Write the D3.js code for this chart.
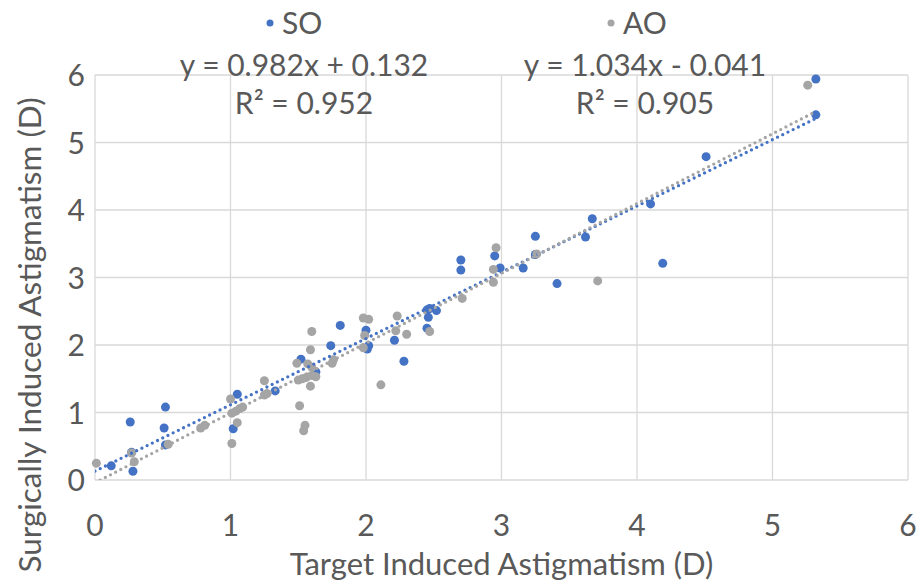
<!DOCTYPE html>
<html>
<head>
<meta charset="utf-8">
<script src="https://cdn.jsdelivr.net/npm/d3@7"></script>
<style>
  body { margin: 0; background: #fff; }
  text { font-family: Lato, sans-serif; fill: #595959; }
</style>
</head>
<body>
<div class="wrapper"></div>
<script>
// SO series: [target, surgically induced]
const soPoints = [
  [0.12, 0.21], [0.26, 0.86], [0.28, 0.13], [0.27, 0.41], [0.52, 1.08],
  [0.51, 0.77], [0.52, 0.52], [1.05, 1.27], [1.02, 0.76], [1.33, 1.32],
  [1.52, 1.79], [1.63, 1.60], [1.74, 1.99], [1.81, 2.29], [2.00, 2.22],
  [2.02, 1.99], [2.01, 1.94], [2.21, 2.07], [2.28, 1.76], [2.47, 2.54],
  [2.45, 2.52], [2.52, 2.51], [2.46, 2.41], [2.45, 2.25], [2.70, 3.26],
  [2.70, 3.11], [2.95, 3.32], [2.99, 3.14], [3.16, 3.14], [3.25, 3.61],
  [3.25, 3.34], [3.41, 2.91], [3.62, 3.60], [3.67, 3.87], [4.10, 4.09],
  [4.19, 3.21], [4.51, 4.79], [5.32, 5.94], [5.32, 5.41]
]

// AO series
const aoPoints = [
  [0.01, 0.25], [0.27, 0.40], [0.29, 0.27], [0.54, 0.53], [0.78, 0.77],
  [0.81, 0.81], [1.00, 1.20], [1.01, 0.99], [1.04, 1.02], [1.07, 1.06],
  [1.09, 1.08], [1.05, 0.85], [1.01, 0.54], [1.25, 1.47], [1.25, 1.26],
  [1.27, 1.28], [1.51, 1.10], [1.55, 0.81], [1.54, 0.73], [1.60, 2.20],
  [1.59, 1.93], [1.49, 1.73], [1.57, 1.72], [1.60, 1.67], [1.75, 1.73],
  [1.76, 1.78], [1.50, 1.48], [1.53, 1.50], [1.56, 1.52], [1.60, 1.55],
  [1.63, 1.53], [1.59, 1.39], [1.98, 2.40], [2.02, 2.38], [1.99, 2.14],
  [1.98, 1.96], [2.23, 2.43], [2.22, 2.21], [2.30, 2.16], [2.11, 1.41],
  [2.47, 2.20], [2.71, 2.69], [2.96, 3.44], [2.94, 3.12], [2.94, 2.93],
  [3.26, 3.35], [3.71, 2.95], [5.26, 5.85]
]

// linear trendlines: [slope, intercept]
const soTrend = [0.982, 0.132]
const aoTrend = [1.034, -0.041]
const trendRange = [0, 5.32]

const seriesNames = ['SO', 'AO']
const trendLabels = [
  ['y = 0.982x + 0.132', 'R² = 0.952'],
  ['y = 1.034x - 0.041', 'R² = 0.905']
]
const ticks = [0, 1, 2, 3, 4, 5, 6]

const width = 921, height = 584
const margin = { top: 75, right: 13, bottom: 104, left: 95 }
const colors = ['#4472C4', '#A5A5A5']

const svg = d3.select('.wrapper')
  .append('svg')
  .attr('width', width)
  .attr('height', height)

const x = d3.scaleLinear().domain([0, 6]).range([margin.left, width - margin.right])
const y = d3.scaleLinear().domain([0, 6]).range([height - margin.bottom, margin.top])

// gridlines
svg.append('g')
  .selectAll('line')
  .data(ticks)
  .enter().append('line')
  .attr('x1', d => x(d)).attr('x2', d => x(d))
  .attr('y1', y(0)).attr('y2', y(6))
  .attr('stroke', '#d9d9d9').attr('stroke-width', 1.3)

svg.append('g')
  .selectAll('line')
  .data(ticks)
  .enter().append('line')
  .attr('x1', x(0)).attr('x2', x(6))
  .attr('y1', d => y(d)).attr('y2', d => y(d))
  .attr('stroke', '#d9d9d9').attr('stroke-width', 1.3)

// tick labels
svg.append('g')
  .selectAll('text')
  .data(ticks)
  .enter().append('text')
  .attr('x', d => x(d))
  .attr('y', y(0) + 56)
  .attr('text-anchor', 'middle')
  .attr('font-size', '30px')
  .text(d => d)

svg.append('g')
  .selectAll('text')
  .data(ticks)
  .enter().append('text')
  .attr('x', x(0) - 10)
  .attr('y', d => y(d) + 11)
  .attr('text-anchor', 'end')
  .attr('font-size', '30px')
  .text(d => d)

// axis titles
svg.append('text')
  .attr('x', (x(0) + x(6)) / 2)
  .attr('y', 575)
  .attr('text-anchor', 'middle')
  .attr('font-size', '31px')
  .text('Target Induced Astigmatism (D)')

svg.append('text')
  .attr('transform', `translate(41, 335) rotate(-90)`)
  .attr('text-anchor', 'middle')
  .attr('font-size', '31.5px')
  .text('Surgically Induced Astigmatism (D)')

const plot = svg.append('g')

function drawPoints(data, color) {
  plot.append('g')
    .selectAll('circle')
    .data(data)
    .enter().append('circle')
    .attr('cx', d => x(d[0]))
    .attr('cy', d => y(d[1]))
    .attr('r', 4.5)
    .attr('fill', color)
}

drawPoints(soPoints, colors[0])
drawPoints(aoPoints, colors[1])

svg.append('clipPath').attr('id', 'clip')
  .append('rect')
  .attr('x', x(0)).attr('y', y(6))
  .attr('width', x(6) - x(0)).attr('height', y(0) - y(6))

function drawTrend(t, color) {
  const line = d3.line().x(d => x(d)).y(d => y(t[0] * d + t[1]))
  plot.append('path')
    .attr('clip-path', 'url(#clip)')
    .attr('d', line(trendRange))
    .attr('fill', 'none')
    .attr('stroke', color)
    .attr('stroke-width', 3.3)
    .attr('stroke-linecap', 'round')
    .attr('stroke-dasharray', '0 5.8')
}

drawTrend(soTrend, colors[0])
drawTrend(aoTrend, colors[1])

// legend + trendline labels
const labelX = [304, 645]
seriesNames.forEach((name, i) => {
  const g = svg.append('g')
  g.append('circle')
    .attr('cx', labelX[i] - 34)
    .attr('cy', 23)
    .attr('r', 3.5)
    .attr('fill', colors[i])
  g.append('text')
    .attr('x', labelX[i] - 22)
    .attr('y', 34)
    .attr('font-size', '30px')
    .text(name)
  g.append('text')
    .attr('x', labelX[i])
    .attr('y', 76)
    .attr('text-anchor', 'middle')
    .attr('font-size', '30px')
    .text(trendLabels[i][0])
  g.append('text')
    .attr('x', labelX[i])
    .attr('y', 114)
    .attr('text-anchor', 'middle')
    .attr('font-size', '30px')
    .text(trendLabels[i][1])
})
</script>
</body>
</html>
